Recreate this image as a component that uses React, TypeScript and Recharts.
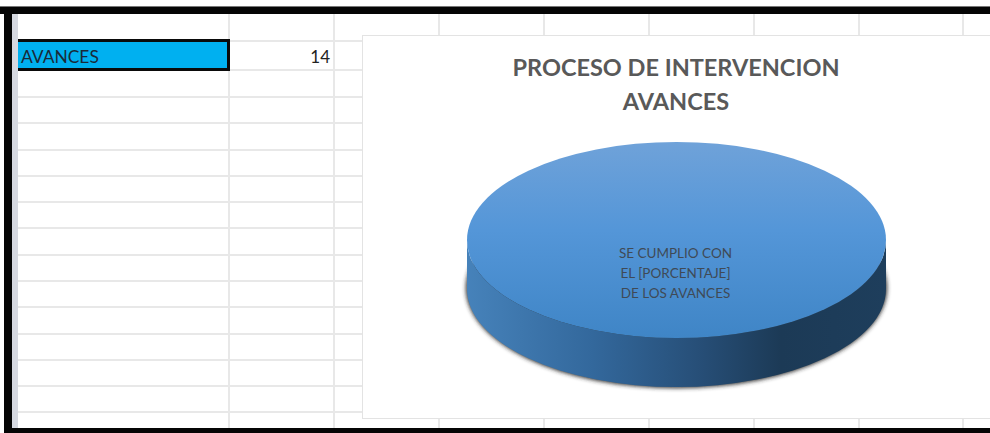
import { Cell, Pie, PieChart } from "recharts";

const categories = ["AVANCES"];
const seriesValues = [14];
const chartTitle = ["PROCESO DE INTERVENCION", "AVANCES"];
const sliceLabel = ["SE CUMPLIO CON", "EL [PORCENTAJE]", "DE LOS AVANCES"];

const data = categories.map((name, i) => ({ name, value: seriesValues[i] }));

// sheet layout, as measured on the screenshot
const columnLines = [228, 333, 438, 543, 648, 753, 858, 962];
const rowLines = [40, 69, 96, 122, 149, 175, 201, 227, 254, 280, 306, 333, 359, 385, 411];
const CHART_LEFT = 362;
const CHART_TOP = 35;
const TILT = 0.468;
const DEPTH = 49;
const FONT = "Lato, 'Open Sans', sans-serif";

function Disc(props: any) {
  const { cx, cy, outerRadius: rx } = props;
  const ry = rx * TILT;
  const wall = `M ${cx - rx} ${cy} A ${rx} ${ry} 0 0 0 ${cx + rx} ${cy} L ${cx + rx} ${cy + DEPTH} A ${rx} ${ry} 0 0 1 ${cx - rx} ${cy + DEPTH} Z`;
  return (
    <g>
      <defs>
        <linearGradient id="wallFill" x1="0" x2="1" y1="0" y2="0">
          <stop offset="0" stopColor="#4682ba" />
          <stop offset="0.3" stopColor="#33689c" />
          <stop offset="0.55" stopColor="#274f78" />
          <stop offset="0.75" stopColor="#1c3a56" />
          <stop offset="1" stopColor="#1e3e5c" />
        </linearGradient>
        <linearGradient id="topFill" x1="0" x2="0" y1="0" y2="1">
          <stop offset="0" stopColor="#6fa2d9" />
          <stop offset="0.45" stopColor="#5496d8" />
          <stop offset="1" stopColor="#3f85c6" />
        </linearGradient>
        <filter id="discShadow" x="-10%" y="-20%" width="120%" height="140%">
          <feGaussianBlur stdDeviation="2.2" />
        </filter>
      </defs>
      <ellipse
        cx={cx}
        cy={cy + DEPTH - 1}
        rx={rx + 1}
        ry={ry + 2}
        fill="#2b2b2b"
        filter="url(#discShadow)"
      />
      <path d={wall} fill="url(#wallFill)" />
      <ellipse cx={cx} cy={cy} rx={rx} ry={ry} fill="url(#topFill)" />
    </g>
  );
}

function SliceText(props: any) {
  const { cx, cy } = props;
  return (
    <text
      x={cx}
      y={cy + 13}
      textAnchor="middle"
      fontFamily={FONT}
      fontSize={13.5}
      fill="#3f4a56"
    >
      {sliceLabel.map((line, i) => (
        <tspan key={line} x={cx - 1} dy={i === 0 ? 5 : 20}>
          {line}
        </tspan>
      ))}
    </text>
  );
}

function Line({ x, y, w, h, color = "#e8e8e8" }: any) {
  return (
    <div
      style={{ position: "absolute", left: x, top: y, width: w, height: h, background: color }}
    />
  );
}

export default function App() {
  return (
    <div
      style={{
        position: "absolute",
        left: 0,
        top: 0,
        width: 990,
        height: 433,
        overflow: "hidden",
        background: "#fff",
        fontFamily: FONT,
      }}
    >
      {columnLines.map((x) => (
        <Line key={x} x={x} y={14} w={2} h={414} />
      ))}
      {rowLines.map((y) => (
        <Line key={y} x={18} y={y} w={CHART_LEFT - 18} h={2} />
      ))}
      <Line x={12} y={14} w={6} h={414} color="#d5d8e0" />

      <div
        style={{
          position: "absolute",
          left: 18,
          top: 39,
          width: 212,
          height: 32,
          boxSizing: "border-box",
          background: "#00b0f0",
          border: "3px solid #0a0a0a",
          borderLeft: "none",
          paddingLeft: 3,
          fontSize: 17.4,
          lineHeight: "30px",
          color: "#1a2a38",
        }}
      >
        {categories[0]}
      </div>
      <div
        style={{
          position: "absolute",
          left: 270,
          top: 44,
          width: 60,
          textAlign: "right",
          fontSize: 17,
          lineHeight: "26px",
          color: "#222",
        }}
      >
        {seriesValues[0]}
      </div>

      <div
        style={{
          position: "absolute",
          left: CHART_LEFT,
          top: CHART_TOP,
          width: 640,
          height: 384,
          boxSizing: "border-box",
          background: "#fff",
          border: "1.5px solid #e3e3e3",
        }}
      />
      <div style={{ position: "absolute", left: CHART_LEFT, top: CHART_TOP }}>
        <PieChart width={628} height={384} margin={{ top: 0, right: 0, bottom: 0, left: 0 }}>
          <text
            x={314}
            y={41}
            textAnchor="middle"
            fontFamily={FONT}
            fontWeight={700}
            fontSize={23.5}
            fill="#595959"
          >
            {chartTitle[0]}
          </text>
          <text
            x={314}
            y={75}
            textAnchor="middle"
            fontFamily={FONT}
            fontWeight={700}
            fontSize={23.5}
            fill="#595959"
          >
            {chartTitle[1]}
          </text>
          <Pie
            data={data}
            dataKey="value"
            nameKey="name"
            cx={314.5}
            cy={205}
            outerRadius={209.5}
            stroke="none"
            shape={Disc}
            label={SliceText}
            labelLine={false}
            isAnimationActive={false}
          >
            {data.map((d) => (
              <Cell key={d.name} fill="#5496d8" />
            ))}
          </Pie>
        </PieChart>
      </div>

      <Line x={0} y={6} w={990} h={1} color="#777" />
      <Line x={0} y={7} w={990} h={7} color="#050505" />
      <Line x={4} y={7} w={8} h={421} color="#050505" />
      <Line x={4} y={428} w={986} h={5} color="#050505" />
    </div>
  );
}
